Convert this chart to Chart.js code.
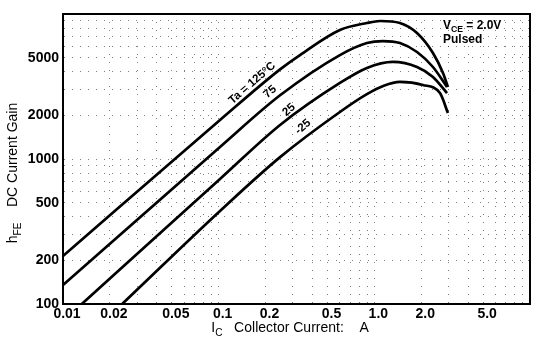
<!DOCTYPE html>
<html>
<head>
<meta charset="utf-8">
<script src="https://cdn.jsdelivr.net/npm/chart.js@4.4.1/dist/chart.umd.min.js"></script>
<style>
html, body { margin: 0; padding: 0; background: #fff; }
#wrap { width: 533px; height: 347px; position: relative; }
</style>
</head>
<body>
<div id="wrap"><canvas id="hfe"></canvas></div>
<script>
// collector current (A) and DC current gain
var ic125 = [0.01, 0.102, 0.248, 0.333, 0.601, 0.896, 1.09, 1.46, 1.88, 2.38, 2.76, 2.97]
var hfe125 = [214, 1857, 4150, 5210, 7760, 8670, 8950, 8670, 7390, 5380, 3920, 3140]

var ic75 = [0.01, 0.102, 0.248, 0.601, 0.896, 1.135, 1.46, 1.88, 2.38, 2.93]
var hfe75 = [135, 1210, 2750, 5210, 6310, 6510, 6310, 5470, 4310, 3140]

var ic25 = [0.0132, 0.102, 0.248, 0.601, 0.896, 1.316, 1.88, 2.38, 2.93]
var hfe25 = [100, 728, 1716, 3345, 4250, 4670, 4310, 3680, 2850]

var icM25 = [0.024, 0.102, 0.248, 0.601, 0.896, 1.15, 1.46, 2.05, 2.64, 2.97]
var hfeM25 = [100, 438, 1030, 2110, 2800, 3200, 3400, 3240, 2850, 2075]

// tick labels
var xTickValues = [0.01, 0.02, 0.05, 0.1, 0.2, 0.5, 1, 2, 5]
var xTickLabels = ['0.01', '0.02', '0.05', '0.1', '0.2', '0.5', '1.0', '2.0', '5.0']
var yTickValues = [100, 200, 500, 1000, 2000, 5000]
var yTickLabels = ['100', '200', '500', '1000', '2000', '5000']

// curve captions, placed in data units
var curveNames = ['Ta = 125°C', '75', '25', '-25']
var curveNameIc = [0.164, 0.214, 0.283, 0.348]
var curveNameHfe = [3340, 2900, 2180, 1665]

function pts(xs, ys) {
	var out = []
	for (var i = 0; i < xs.length; i++) out.push({ x: xs[i], y: ys[i] })
	return out
}

function logGrid(lo, hi) {
	var t = []
	for (var d = lo; d < hi * 0.999; d *= 10) {
		for (var k = 1; k <= 9; k++) t.push({ value: d * k })
	}
	t.push({ value: hi })
	return t
}

function pick(values, labels, v) {
	for (var i = 0; i < values.length; i++) {
		if (Math.abs(v / values[i] - 1) < 1e-6) return labels[i]
	}
	return ''
}

// text with subscripts: parts = [[text, isSub, weight], ...]
function subWidth(ctx, parts, size) {
	var w = 0
	parts.forEach(function (p) {
		ctx.font = (p[2] || '') + ' ' + (p[1] ? size * 0.72 : size) + 'px "Liberation Sans", Arial, sans-serif'
		w += ctx.measureText(p[0]).width
	})
	return w
}
function subText(ctx, parts, x, y, size) {
	ctx.textBaseline = 'alphabetic'
	ctx.textAlign = 'left'
	parts.forEach(function (p) {
		ctx.font = (p[2] || '') + ' ' + (p[1] ? size * 0.72 : size) + 'px "Liberation Sans", Arial, sans-serif'
		ctx.fillText(p[0], x, p[1] ? y + size * 0.25 : y)
		x += ctx.measureText(p[0]).width
	})
}

var paper = {
	id: 'paper',
	beforeDraw: function (chart) {
		var ctx = chart.ctx
		ctx.save()
		ctx.fillStyle = '#fff'
		ctx.fillRect(0, 0, chart.width, chart.height)
		ctx.restore()
	},
	afterDraw: function (chart) {
		var ctx = chart.ctx, a = chart.chartArea
		var sx = chart.scales.x, sy = chart.scales.y
		ctx.save()
		ctx.strokeStyle = '#000'
		ctx.lineWidth = 2
		ctx.strokeRect(a.left, a.top, a.right - a.left, a.bottom - a.top)

		ctx.fillStyle = '#000'
		// curve captions along the lines
		for (var i = 0; i < curveNames.length; i++) {
			ctx.save()
			ctx.translate(sx.getPixelForValue(curveNameIc[i]), sy.getPixelForValue(curveNameHfe[i]))
			ctx.rotate(-41 * Math.PI / 180)
			ctx.font = 'bold 11.5px "Liberation Sans", Arial, sans-serif'
			ctx.textAlign = 'center'
			ctx.textBaseline = 'middle'
			ctx.fillText(curveNames[i], 0, 0)
			ctx.restore()
		}

		// conditions
		var cx = sx.getPixelForValue(2.76)
		subText(ctx, [['V', false, 'bold'], ['CE', true, 'bold'], [' = 2.0V', false, 'bold']], cx, sy.getPixelForValue(7900), 12)
		subText(ctx, [['Pulsed', false, 'bold']], cx, sy.getPixelForValue(6300), 12)

		// axis titles
		var xt = [['I', false], ['C', true], ['   Collector Current:    A', false]]
		var w = subWidth(ctx, xt, 14)
		subText(ctx, xt, 290 - w / 2, 332, 14)

		var yt = [['h', false], ['FE', true], ['    DC Current Gain', false]]
		w = subWidth(ctx, yt, 14)
		ctx.translate(17, 173)
		ctx.rotate(-Math.PI / 2)
		subText(ctx, yt, -w / 2, 0, 14)
		ctx.restore()
	}
}

var curve = {
	borderColor: '#000',
	borderWidth: 2.7,
	pointRadius: 0,
	fill: false,
	cubicInterpolationMode: 'monotone'
}

var gridLook = { color: 'rgba(0,0,0,0.5)', lineWidth: 1, drawTicks: false }
var tickFont = { family: '"Liberation Sans", Arial, sans-serif', size: 14, weight: 'bold' }

new Chart(document.getElementById('hfe'), {
	type: 'line',
	data: {
		datasets: [
			Object.assign({ label: '125', data: pts(ic125, hfe125) }, curve),
			Object.assign({ label: '75', data: pts(ic75, hfe75) }, curve),
			Object.assign({ label: '25', data: pts(ic25, hfe25) }, curve),
			Object.assign({ label: '-25', data: pts(icM25, hfeM25) }, curve)
		]
	},
	options: {
		responsive: true,
		maintainAspectRatio: false,
		animation: false,
		layout: { padding: { left: 0, right: 3, top: 14, bottom: 0 } },
		plugins: { legend: { display: false }, tooltip: { enabled: false } },
		scales: {
			x: {
				type: 'logarithmic',
				min: 0.01,
				max: 10,
				afterBuildTicks: function (s) { s.ticks = logGrid(0.01, 10) },
				afterFit: function (s) { s.height = 43 },
				grid: gridLook,
				border: { display: true, color: '#000', width: 2, dash: [1, 7] },
				ticks: {
					color: '#000',
					font: tickFont,
					padding: 2,
					labelOffset: 4,
					autoSkip: false,
					maxRotation: 0,
					callback: function (v) { return pick(xTickValues, xTickLabels, v) }
				}
			},
			y: {
				type: 'logarithmic',
				min: 100,
				max: 10000,
				afterBuildTicks: function (s) { s.ticks = logGrid(100, 10000) },
				afterFit: function (s) { s.width = 63 },
				grid: gridLook,
				border: { display: true, color: '#000', width: 2, dash: [1, 7] },
				ticks: {
					color: '#000',
					font: tickFont,
					padding: 4,
					autoSkip: false,
					callback: function (v) { return pick(yTickValues, yTickLabels, v) }
				}
			}
		}
	},
	plugins: [paper]
})
</script>
</body>
</html>
